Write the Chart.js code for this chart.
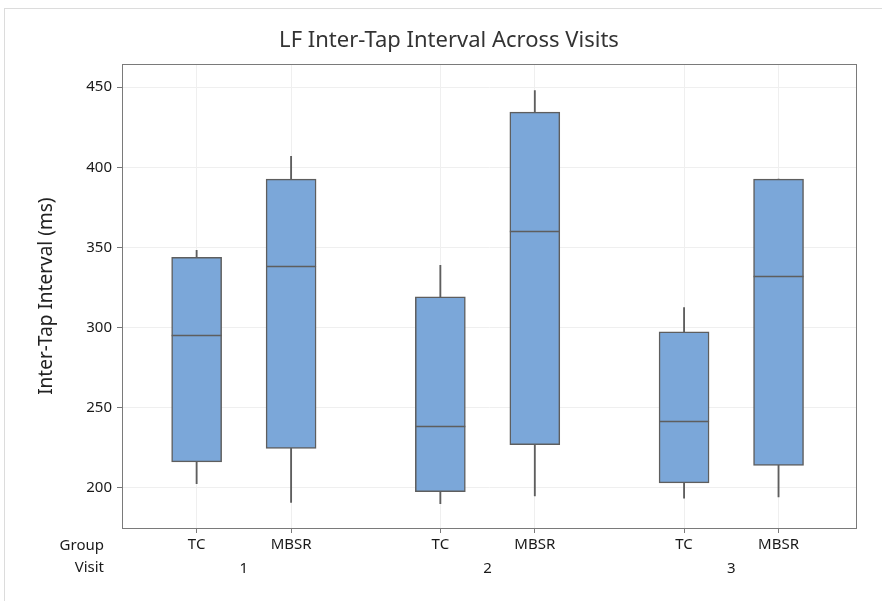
<!DOCTYPE html>
<html>
<head>
<meta charset="utf-8">
<script src="https://cdn.jsdelivr.net/npm/chart.js@4.4.1/dist/chart.umd.min.js"></script>
<style>
  body { margin: 0; background: #fff; }
  #wrap { position: relative; width: 882px; height: 601px; overflow: hidden; }
  #frame { position: absolute; left: 4px; top: 8px; width: 900px; height: 620px; border: 1px solid #dcdcdc; }
  #boxChart { position: absolute; left: 0; top: 0; }
</style>
</head>
<body>
<div id="wrap">
  <div id="frame"></div>
  <canvas id="boxChart" width="882" height="601"></canvas>
</div>
<script>
// categories
const groups = ["TC", "MBSR", "TC", "MBSR", "TC", "MBSR"];
const visits = ["1", "2", "3"];
const xPos = [1, 2, 3.58, 4.58, 6.16, 7.16];

// box plot summaries (ms)
const whiskerLow = [202.7, 191.0, 190.2, 195.0, 193.6, 194.4];
const q1 = [216.2, 224.7, 197.7, 227.0, 203.1, 214.0];
const median = [295.2, 338.4, 238.7, 360.2, 241.8, 332.2];
const q3 = [343.8, 392.6, 319.2, 434.4, 297.3, 392.6];
const whiskerHigh = [348.2, 406.8, 338.8, 447.9, 312.5, 392.6];

const yTicks = [200, 250, 300, 350, 400, 450];

const visitPos = visits.map((v, i) => (xPos[i * 2] + xPos[i * 2 + 1]) / 2);

const lineColor = "#5e5e5e";
const boxColor = "#7ba7d9";
const fontFamily = "'Noto Sans', 'Open Sans', sans-serif";

Chart.defaults.font.family = fontFamily;
Chart.defaults.color = "#1a1a1a";

const boxExtras = {
  id: "boxExtras",
  afterDatasetsDraw(chart) {
    const ctx = chart.ctx;
    const y = chart.scales.y;
    const meta = chart.getDatasetMeta(0);
    ctx.save();
    ctx.strokeStyle = lineColor;
    ctx.lineWidth = 1.5;
    median.forEach((m, i) => {
      const el = meta.data[i];
      const py = Math.round(y.getPixelForValue(m)) + 0.5;
      ctx.beginPath();
      ctx.moveTo(el.x - el.width / 2, py);
      ctx.lineTo(el.x + el.width / 2, py);
      ctx.stroke();
    });
    ctx.restore();
  },
  afterDraw(chart) {
    const ctx = chart.ctx;
    const a = chart.chartArea;
    ctx.save();
    ctx.strokeStyle = "#7a7a7a";
    ctx.lineWidth = 1;
    ctx.strokeRect(Math.round(a.left) + 0.5, Math.round(a.top) + 0.5, Math.round(a.right - a.left), Math.round(a.bottom - a.top));
    ctx.fillStyle = "#1a1a1a";
    ctx.font = "15px " + fontFamily;
    ctx.textAlign = "right";
    ctx.textBaseline = "middle";
    ctx.fillText("Group", a.left - 18, chart.scales.x.top + 18);
    ctx.fillText("Visit", a.left - 18, chart.scales.visit.top + 10);
    ctx.restore();
  }
};

new Chart(document.getElementById("boxChart").getContext("2d"), {
  type: "bar",
  data: {
    datasets: [
      {
        label: "Box",
        data: xPos.map((x, i) => ({ x: x, y: [q1[i], q3[i]] })),
        backgroundColor: boxColor,
        borderColor: lineColor,
        borderWidth: 1.5,
        borderSkipped: false,
        barThickness: 50,
        grouped: false,
      },
      {
        label: "Whisker",
        data: xPos.map((x, i) => ({ x: x, y: [whiskerLow[i], whiskerHigh[i]] })),
        backgroundColor: lineColor,
        borderWidth: 0,
        barThickness: 1.2,
        grouped: false,
      },
    ],
  },
  options: {
    responsive: false,
    animation: false,
    layout: { padding: { left: 16, right: 0, top: 0, bottom: 21 } },
    plugins: {
      legend: { display: false },
      tooltip: { enabled: false },
      title: {
        display: true,
        text: "LF Inter-Tap Interval Across Visits",
        color: "#333",
        font: { size: 22, weight: "normal" },
        padding: { top: 28, bottom: 10 },
      },
    },
    scales: {
      x: {
        type: "linear",
        position: "bottom",
        offset: false,
        min: 0.21,
        max: 7.98,
        afterBuildTicks: (s) => { s.ticks = xPos.map((v) => ({ value: v })); },
        afterFit: (s) => { s.height = 30; },
        ticks: {
          autoSkip: false,
          maxRotation: 0,
          padding: 3,
          color: "#1a1a1a",
          font: { size: 15 },
          callback: (v, i) => groups[i],
        },
        grid: { offset: false, color: "#efefef", tickLength: 5, tickColor: "#7a7a7a" },
        border: { color: "#7a7a7a" },
      },
      visit: {
        type: "linear",
        position: "bottom",
        offset: false,
        min: 0.21,
        max: 7.98,
        afterBuildTicks: (s) => { s.ticks = visitPos.map((v) => ({ value: v })); },
        afterFit: (s) => { s.height = 22; },
        ticks: {
          autoSkip: false,
          maxRotation: 0,
          padding: 2,
          color: "#1a1a1a",
          font: { size: 15 },
          callback: (v, i) => visits[i],
        },
        grid: { display: false, drawTicks: false },
        border: { display: false },
      },
      y: {
        min: 175,
        max: 464.2,
        afterBuildTicks: (s) => { s.ticks = yTicks.map((v) => ({ value: v })); },
        afterFit: (s) => { s.width = 106; },
        ticks: { padding: 5, color: "#1a1a1a", font: { size: 15 } },
        grid: { color: "#efefef", tickLength: 5, tickColor: "#7a7a7a" },
        border: { color: "#7a7a7a" },
        title: {
          display: true,
          text: "Inter-Tap Interval (ms)",
          color: "#222",
          font: { size: 19 },
          padding: { top: 19, bottom: 0 },
        },
      },
      // empty right-hand strip so the plot frame ends where the reference does
      yRight: {
        position: "right",
        min: 175,
        max: 464.2,
        afterFit: (s) => { s.width = 26; },
        ticks: { display: false },
        grid: { display: false, drawTicks: false },
        border: { display: false },
      },
    },
  },
  plugins: [boxExtras],
});
</script>
</body>
</html>
